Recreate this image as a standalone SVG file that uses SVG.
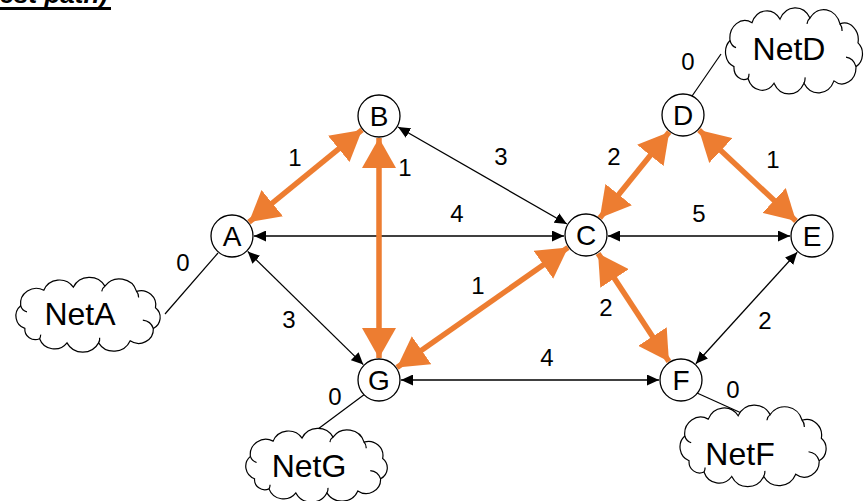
<svg xmlns="http://www.w3.org/2000/svg" xmlns:xlink="http://www.w3.org/1999/xlink" width="864" height="501" viewBox="0 0 864 501">
<style>
.node circle{fill:#fff;stroke:#000;stroke-width:1.3}
.node text{font-family:"Liberation Sans",Arial,sans-serif;font-size:28px;text-anchor:middle;fill:#000}
.cloud text{font-family:"Liberation Sans",Arial,sans-serif;font-size:32px;text-anchor:middle;fill:#000}
.cl{fill:#fff;stroke:#000;stroke-width:1.2}
.blk{stroke:#000;stroke-width:1.3;fill:none;marker-start:url(#ab);marker-end:url(#ab)}
.org{stroke:#ED7D31;stroke-width:5.5;fill:none;marker-start:url(#ao);marker-end:url(#ao)}
.thin{stroke:#000;stroke-width:1.2}
.w{font-family:"Liberation Sans",Arial,sans-serif;font-size:24px;text-anchor:middle;fill:#000}
</style>
<defs>
<marker id="ab" viewBox="0 0 12 11" refX="12" refY="5.5" markerWidth="12" markerHeight="11" orient="auto-start-reverse" markerUnits="userSpaceOnUse"><path d="M0,0 L12,5.5 L0,11 z" fill="#000"/></marker>
<marker id="ao" viewBox="0 0 30 34" refX="30" refY="17" markerWidth="30" markerHeight="34" orient="auto-start-reverse" markerUnits="userSpaceOnUse"><path d="M0,0 L30,17 L0,34 z" fill="#ED7D31"/></marker>
<symbol id="cloud" viewBox="0 0 150 64" preserveAspectRatio="none" overflow="visible">
<path vector-effect="non-scaling-stroke" class="cl" d="M16,46 A13 13 0 0 1 12,24 A15 15 0 0 1 34,9 A16 16 0 0 1 62,6 A17 17 0 0 1 92,5 A17 17 0 0 1 122,10 A14 14 0 0 1 140,26 A12 12 0 0 1 138,46 A14 14 0 0 1 116,58 A17 17 0 0 1 86,60 A17 17 0 0 1 56,60 A15 15 0 0 1 30,56 A10 10 0 0 1 16,46 Z"/>
<path vector-effect="non-scaling-stroke" fill="none" stroke="#000" stroke-width="1.2" d="M12,24 A9 9 0 0 0 18,30 M30,56 A8 8 0 0 0 31,52 M92,5 A7 7 0 0 0 89,10 M122,10 A8 8 0 0 1 124,16 M138,46 A12 12 0 0 0 128,38 M86,60 A8 8 0 0 0 87,55"/>
</symbol>
</defs>
<rect width="864" height="501" fill="#fff"/>
<g id="title">
<text x="108" y="3" font-family="Liberation Sans,Arial,sans-serif" font-size="26" font-weight="bold" font-style="italic" text-anchor="end">(shortest path)</text>
<rect x="0" y="7" width="111" height="3" fill="#000"/>
</g>
<g id="connectors">
<line class="thin" x1="218" y1="253" x2="165" y2="314"/>
<line class="thin" x1="365" y1="394" x2="318" y2="429"/>
<line class="thin" x1="697" y1="393" x2="748" y2="416"/>
<line class="thin" x1="690" y1="99" x2="721" y2="54"/>
<line class="blk" x1="398.1" y1="127" x2="566.9" y2="224"/>
<line class="blk" x1="254" y1="236" x2="564" y2="236"/>
<line class="blk" x1="608" y1="236" x2="790" y2="236"/>
<line class="blk" x1="247.7" y1="251.4" x2="363.3" y2="364.6"/>
<line class="blk" x1="401" y1="380" x2="659" y2="380"/>
<line class="blk" x1="797.2" y1="252.3" x2="695.8" y2="363.7"/>
<line class="org" x1="249" y1="222.1" x2="362" y2="129.9"/>
<line class="org" x1="379" y1="138" x2="379" y2="358"/>
<line class="org" x1="397" y1="367.4" x2="568" y2="247.6"/>
<line class="org" x1="599.8" y1="217.9" x2="669.2" y2="132.1"/>
<line class="org" x1="699" y1="130" x2="796" y2="221"/>
<line class="org" x1="598.1" y1="253.4" x2="668.9" y2="361.6"/>
<text class="w" x="295" y="166">1</text>
<text class="w" x="405" y="176">1</text>
<text class="w" x="501" y="165">3</text>
<text class="w" x="614" y="165">2</text>
<text class="w" x="773" y="168">1</text>
<text class="w" x="457" y="222">4</text>
<text class="w" x="699" y="222">5</text>
<text class="w" x="183" y="271">0</text>
<text class="w" x="289" y="328">3</text>
<text class="w" x="478" y="294">1</text>
<text class="w" x="606" y="316">2</text>
<text class="w" x="765" y="329">2</text>
<text class="w" x="547" y="366">4</text>
<text class="w" x="335" y="405">0</text>
<text class="w" x="733" y="398">0</text>
<text class="w" x="688" y="70">0</text>
</g>
<g id="NetA" class="cloud"><use xlink:href="#cloud" x="8" y="281" width="158" height="66"/><text x="80" y="325">NetA</text></g>
<g id="NetG" class="cloud"><use xlink:href="#cloud" x="238" y="432" width="155" height="65"/><text x="309" y="477">NetG</text></g>
<g id="NetF" class="cloud"><use xlink:href="#cloud" x="672" y="409" width="160" height="72"/><text x="740" y="465">NetF</text></g>
<g id="NetD" class="cloud"><use xlink:href="#cloud" x="718" y="12" width="150" height="76"/><text x="789" y="60">NetD</text></g>
<g id="A" class="node"><circle cx="232" cy="236" r="21"/><text x="232" y="246">A</text></g>
<g id="B" class="node"><circle cx="379" cy="116" r="21"/><text x="379" y="126">B</text></g>
<g id="C" class="node"><circle cx="586" cy="235" r="21"/><text x="586" y="245">C</text></g>
<g id="D" class="node"><circle cx="683" cy="115" r="21"/><text x="683" y="125">D</text></g>
<g id="E" class="node"><circle cx="812" cy="236" r="21"/><text x="812" y="246">E</text></g>
<g id="F" class="node"><circle cx="681" cy="380" r="21"/><text x="681" y="390">F</text></g>
<g id="G" class="node"><circle cx="379" cy="380" r="21"/><text x="379" y="390">G</text></g>
</svg>
